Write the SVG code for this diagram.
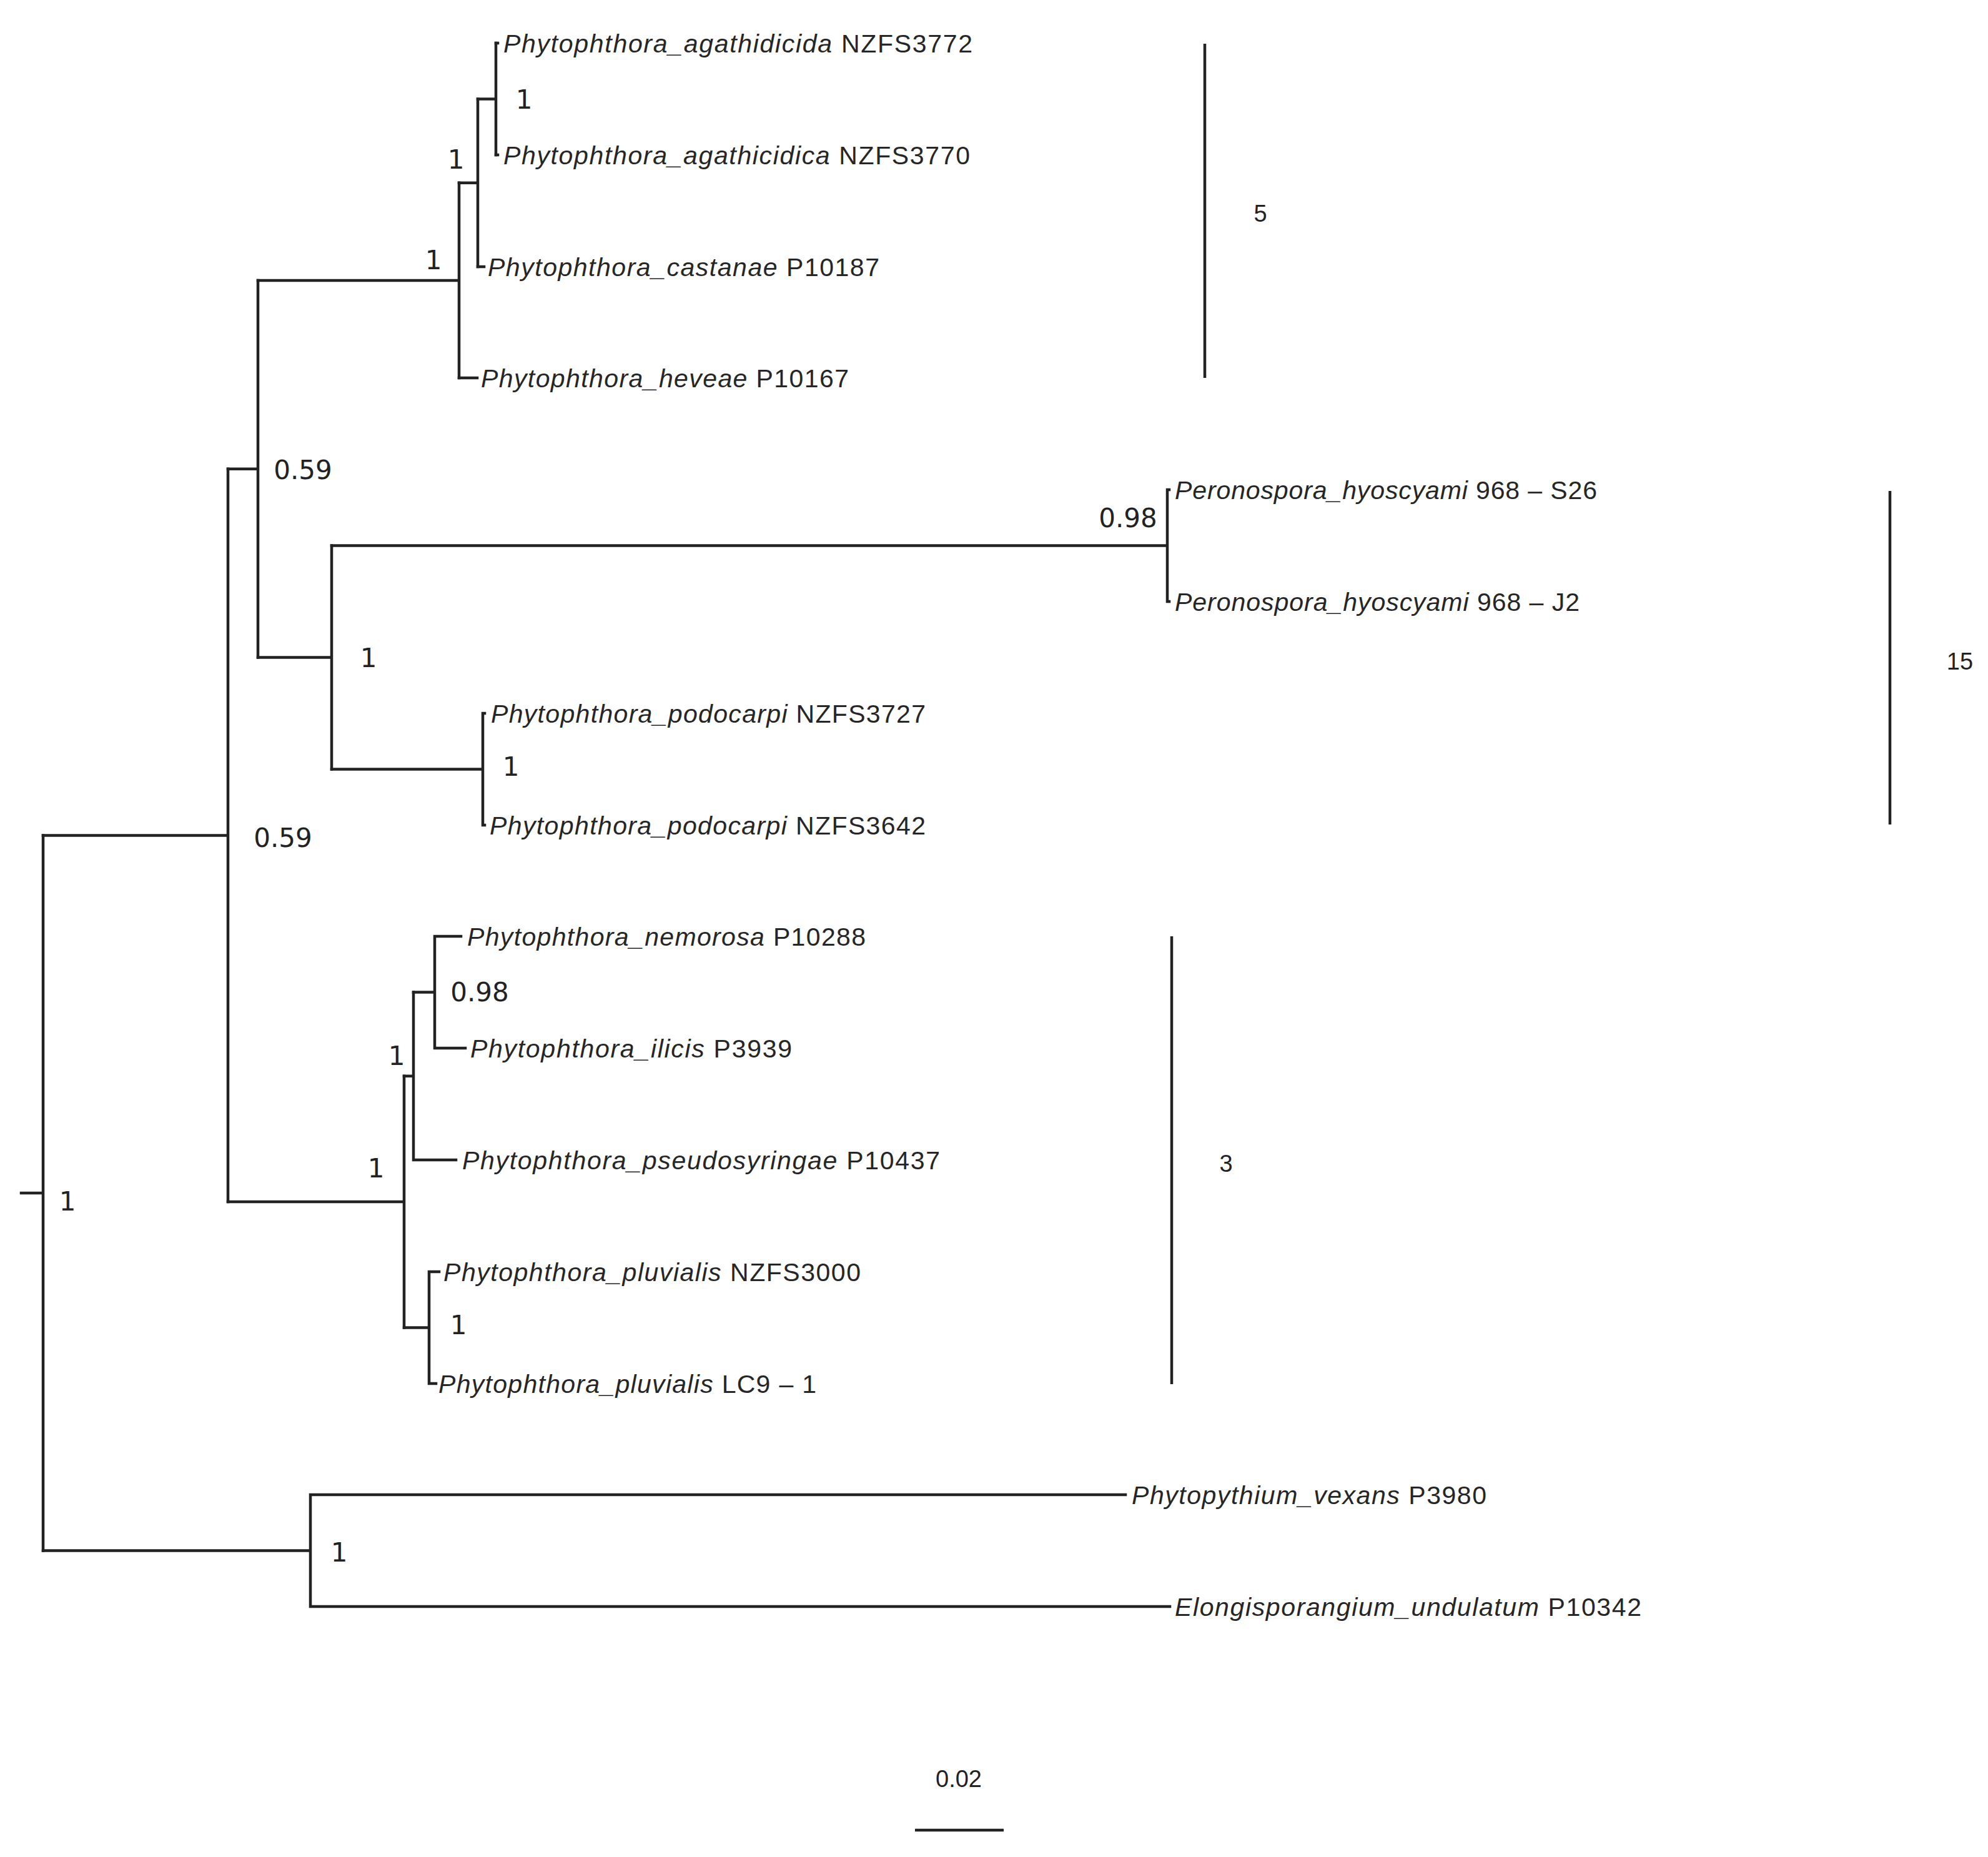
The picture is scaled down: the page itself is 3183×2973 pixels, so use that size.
<svg xmlns="http://www.w3.org/2000/svg" width="3183" height="2973" viewBox="0 0 3183 2973">
<style>
.br{fill:none;stroke:#222;stroke-width:4.5;stroke-linecap:square}
.bar{fill:none;stroke:#222;stroke-width:4.5}
.tip{font-family:"Liberation Sans",Arial,sans-serif;font-size:41px;fill:#262626}
.sp{font-style:italic}
.bs{font-family:"DejaVu Sans",sans-serif;font-size:42px;fill:#222;text-anchor:middle}
.cl{font-family:"Liberation Sans",Arial,sans-serif;font-size:38px;fill:#222;text-anchor:middle}
</style>
<rect width="3183" height="2973" fill="#fff"/>
<g id="connectors">
<path class="br" d="M34 1910H69 M69 1337.4V2482.5"/>
<path class="br" d="M69 1337.4H365 M365 750.7V1924.1"/>
<path class="br" d="M365 750.7H413 M413 448.9V1052.5"/>
<path class="br" d="M413 448.9H735 M735 292.75V605"/>
<path class="br" d="M735 292.75H765 M765 158.5V427"/>
<path class="br" d="M765 158.5H794 M794 69V248"/>
<path class="br" d="M794 69H797 M794 248H797 M765 427H775 M735 605H764"/>
<path class="br" d="M413 1052.5H531 M531 873.5V1231.5"/>
<path class="br" d="M531 873.5H1869 M1869 784V963 M1869 784H1872 M1869 963H1872"/>
<path class="br" d="M531 1231.5H773 M773 1142V1321 M773 1142H776 M773 1321H776"/>
<path class="br" d="M365 1924.1H647 M647 1722.75V2125.5"/>
<path class="br" d="M647 1722.75H662 M662 1588.5V1857 M662 1857H730"/>
<path class="br" d="M662 1588.5H696 M696 1499V1678 M696 1499H738 M696 1678H745"/>
<path class="br" d="M647 2125.5H687 M687 2036V2215 M687 2036H703 M687 2215H698"/>
<path class="br" d="M69 2482.5H497 M497 2393V2572 M497 2393H1802 M497 2572H1873"/>
</g>
<g id="tip-agathidicida-NZFS3772"><text class="tip" x="806" y="84" textLength="751"><tspan class="sp">Phytophthora_agathidicida</tspan> NZFS3772</text></g>
<g id="tip-agathicidica-NZFS3770"><text class="tip" x="806" y="263" textLength="747"><tspan class="sp">Phytophthora_agathicidica</tspan> NZFS3770</text></g>
<g id="tip-castanae-P10187"><text class="tip" x="781" y="442" textLength="627"><tspan class="sp">Phytophthora_castanae</tspan> P10187</text></g>
<g id="tip-heveae-P10167"><text class="tip" x="770" y="620" textLength="589"><tspan class="sp">Phytophthora_heveae</tspan> P10167</text></g>
<g id="tip-hyoscyami-S26"><text class="tip" x="1881" y="799" textLength="676"><tspan class="sp">Peronospora_hyoscyami</tspan> 968 – S26</text></g>
<g id="tip-hyoscyami-J2"><text class="tip" x="1881" y="978" textLength="648"><tspan class="sp">Peronospora_hyoscyami</tspan> 968 – J2</text></g>
<g id="tip-podocarpi-NZFS3727"><text class="tip" x="786" y="1157" textLength="696"><tspan class="sp">Phytophthora_podocarpi</tspan> NZFS3727</text></g>
<g id="tip-podocarpi-NZFS3642"><text class="tip" x="784" y="1336" textLength="698"><tspan class="sp">Phytophthora_podocarpi</tspan> NZFS3642</text></g>
<g id="tip-nemorosa-P10288"><text class="tip" x="748" y="1514" textLength="638"><tspan class="sp">Phytophthora_nemorosa</tspan> P10288</text></g>
<g id="tip-ilicis-P3939"><text class="tip" x="753" y="1693" textLength="515"><tspan class="sp">Phytophthora_ilicis</tspan> P3939</text></g>
<g id="tip-pseudosyringae-P10437"><text class="tip" x="740" y="1872" textLength="765"><tspan class="sp">Phytophthora_pseudosyringae</tspan> P10437</text></g>
<g id="tip-pluvialis-NZFS3000"><text class="tip" x="710" y="2051" textLength="668"><tspan class="sp">Phytophthora_pluvialis</tspan> NZFS3000</text></g>
<g id="tip-pluvialis-LC9-1"><text class="tip" x="702" y="2230" textLength="605"><tspan class="sp">Phytophthora_pluvialis</tspan> LC9 – 1</text></g>
<g id="tip-vexans-P3980"><text class="tip" x="1812" y="2408" textLength="568"><tspan class="sp">Phytopythium_vexans</tspan> P3980</text></g>
<g id="tip-undulatum-P10342"><text class="tip" x="1881" y="2587" textLength="747"><tspan class="sp">Elongisporangium_undulatum</tspan> P10342</text></g>
<g id="node-root"><text class="bs" x="108" y="1938">1</text></g>
<g id="node-L"><text class="bs" x="453" y="1356">0.59</text></g>
<g id="node-G"><text class="bs" x="485" y="767">0.59</text></g>
<g id="node-C"><text class="bs" x="694" y="431">1</text></g>
<g id="node-B"><text class="bs" x="730" y="270">1</text></g>
<g id="node-A"><text class="bs" x="839" y="174">1</text></g>
<g id="node-F"><text class="bs" x="590" y="1068">1</text></g>
<g id="node-D"><text class="bs" x="1806" y="844">0.98</text></g>
<g id="node-E"><text class="bs" x="818" y="1242">1</text></g>
<g id="node-K"><text class="bs" x="602" y="1885">1</text></g>
<g id="node-I"><text class="bs" x="635" y="1705">1</text></g>
<g id="node-H"><text class="bs" x="768" y="1603">0.98</text></g>
<g id="node-J"><text class="bs" x="734" y="2136">1</text></g>
<g id="node-M"><text class="bs" x="543" y="2500">1</text></g>
<g id="clade-5"><line class="bar" x1="1929" y1="70" x2="1929" y2="605"/><text class="cl" x="2018" y="355">5</text></g>
<g id="clade-15"><line class="bar" x1="3026" y1="786" x2="3026" y2="1320"/><text class="cl" x="3138" y="1072">15</text></g>
<g id="clade-3"><line class="bar" x1="1876" y1="1499" x2="1876" y2="2216"/><text class="cl" x="1963" y="1876">3</text></g>
<g id="scale-bar"><line class="bar" x1="1465" y1="2930" x2="1607" y2="2930"/><text class="cl" x="1535" y="2861">0.02</text></g>
</svg>
